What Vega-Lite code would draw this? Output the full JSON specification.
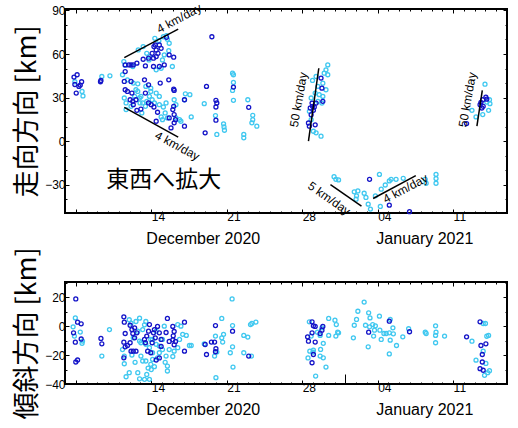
{
"$schema":"https://vega.github.io/schema/vega-lite/v6.json",
"background":"white",
"padding":{"left":12,"top":0,"right":5,"bottom":0},
"config":{"view":{"stroke":"black","strokeWidth":2},"font":"Liberation Sans","axis":{"labelFont":"Liberation Sans","labelColor":"black","tickColor":"black","domain":false,"grid":false,"labelFontSize":12}},
"spacing":69,
"bounds":"flush",
"datasets":{
"strike":[
{"t":"2020-12-07T14:00","v":34.2,"g":"L"},{"t":"2020-12-07T16:00","v":31.1,"g":"L"},{"t":"2020-12-06T22:00","v":40.9,"g":"L"},{"t":"2020-12-09T10:00","v":44.5,"g":"L"},{"t":"2020-12-10T04:00","v":45,"g":"L"},
{"t":"2020-12-11T11:00","v":54.8,"g":"L"},{"t":"2020-12-11T14:00","v":52.3,"g":"L"},{"t":"2020-12-12T07:00","v":51.4,"g":"L"},{"t":"2020-12-12T19:00","v":62.8,"g":"L"},{"t":"2020-12-13T06:00","v":65.1,"g":"L"},{"t":"2020-12-13T14:00","v":60.5,"g":"L"},{"t":"2020-12-13T20:00","v":58.2,"g":"L"},{"t":"2020-12-14T08:00","v":70.8,"g":"L"},{"t":"2020-12-14T17:00","v":69.2,"g":"L"},{"t":"2020-12-15T03:00","v":71.9,"g":"L"},{"t":"2020-12-15T10:00","v":72.6,"g":"L"},{"t":"2020-12-15T12:00","v":70.1,"g":"L"},{"t":"2020-12-15T16:00","v":67.4,"g":"L"},{"t":"2020-12-15T15:00","v":62.3,"g":"L"},{"t":"2020-12-15T05:00","v":59.4,"g":"L"},{"t":"2020-12-15T01:00","v":55.9,"g":"L"},{"t":"2020-12-15T23:00","v":51.4,"g":"L"},{"t":"2020-12-14T11:00","v":49.1,"g":"L"},{"t":"2020-12-14T22:00","v":50.2,"g":"L"},{"t":"2020-12-13T19:00","v":55.9,"g":"L"},
{"t":"2020-12-11T08:00","v":45.7,"g":"L"},{"t":"2020-12-11T12:00","v":29.7,"g":"L"},{"t":"2020-12-11T16:00","v":21.7,"g":"L"},{"t":"2020-12-11T19:00","v":42.2,"g":"L"},{"t":"2020-12-12T08:00","v":40,"g":"L"},{"t":"2020-12-12T18:00","v":39.5,"g":"L"},{"t":"2020-12-12T23:00","v":26.3,"g":"L"},{"t":"2020-12-13T03:00","v":19.4,"g":"L"},{"t":"2020-12-13T11:00","v":24,"g":"L"},{"t":"2020-12-13T20:00","v":30.8,"g":"L"},{"t":"2020-12-13T23:00","v":34.2,"g":"L"},{"t":"2020-12-13T14:00","v":27.4,"g":"L"},{"t":"2020-12-14T02:00","v":28.5,"g":"L"},{"t":"2020-12-14T07:00","v":26.3,"g":"L"},{"t":"2020-12-14T18:00","v":25.1,"g":"L"},{"t":"2020-12-15T03:00","v":23.5,"g":"L"},{"t":"2020-12-15T07:00","v":19.4,"g":"L"},{"t":"2020-12-15T12:00","v":16,"g":"L"},{"t":"2020-12-15T01:00","v":14.8,"g":"L"},{"t":"2020-12-14T22:00","v":16.7,"g":"L"},{"t":"2020-12-16T07:00","v":16,"g":"L"},{"t":"2020-12-16T15:00","v":14.8,"g":"L"},{"t":"2020-12-16T18:00","v":13.7,"g":"L"},{"t":"2020-12-17T04:00","v":32.6,"g":"L"},{"t":"2020-12-17T17:00","v":16.7,"g":"L"},{"t":"2020-12-16T03:00","v":28.5,"g":"L"},{"t":"2020-12-16T07:00","v":25.1,"g":"L"},{"t":"2020-12-15T09:00","v":26.3,"g":"L"},{"t":"2020-12-12T18:00","v":34.2,"g":"L"},{"t":"2020-12-13T01:00","v":30.8,"g":"L"},{"t":"2020-12-12T11:00","v":30.8,"g":"L"},{"t":"2020-12-12T22:00","v":29.7,"g":"L"},{"t":"2020-12-13T12:00","v":37.7,"g":"L"},{"t":"2020-12-13T23:00","v":36.5,"g":"L"},{"t":"2020-12-14T11:00","v":33.1,"g":"L"},{"t":"2020-12-14T18:00","v":30.8,"g":"L"},{"t":"2020-12-12T14:00","v":35.4,"g":"L"},{"t":"2020-12-13T05:00","v":26.3,"g":"L"},{"t":"2020-12-12T03:00","v":24,"g":"L"},{"t":"2020-12-11T16:00","v":26.3,"g":"L"},{"t":"2020-12-17T14:00","v":32,"g":"L"},{"t":"2020-12-17T02:00","v":28.5,"g":"L"},
{"t":"2020-12-18T22:00","v":25.8,"g":"L"},{"t":"2020-12-19T23:00","v":17.6,"g":"L"},{"t":"2020-12-20T02:00","v":4.6,"g":"L"},{"t":"2020-12-20T17:00","v":11.9,"g":"L"},{"t":"2020-12-20T18:00","v":9.8,"g":"L"},{"t":"2020-12-20T19:00","v":7.5,"g":"L"},{"t":"2020-12-21T13:00","v":46.8,"g":"L"},{"t":"2020-12-21T15:00","v":45.7,"g":"L"},{"t":"2020-12-21T15:00","v":40.4,"g":"L"},{"t":"2020-12-21T13:00","v":34.9,"g":"L"},{"t":"2020-12-21T15:00","v":28.1,"g":"L"},{"t":"2020-12-22T14:00","v":4.6,"g":"L"},{"t":"2020-12-22T14:00","v":2.3,"g":"L"},{"t":"2020-12-22T23:00","v":28.5,"g":"L"},{"t":"2020-12-23T10:00","v":17.8,"g":"L"},{"t":"2020-12-23T10:00","v":14.8,"g":"L"},{"t":"2020-12-23T08:00","v":12.6,"g":"L"},{"t":"2020-12-23T19:00","v":10.3,"g":"L"},
{"t":"2020-12-28T23:00","v":41.8,"g":"L"},{"t":"2020-12-29T07:00","v":44.5,"g":"L"},{"t":"2020-12-29T11:00","v":37.7,"g":"L"},{"t":"2020-12-29T05:00","v":33.1,"g":"L"},{"t":"2020-12-29T14:00","v":32,"g":"L"},{"t":"2020-12-29T22:00","v":30.8,"g":"L"},{"t":"2020-12-30T01:00","v":46.8,"g":"L"},{"t":"2020-12-30T05:00","v":49.1,"g":"L"},{"t":"2020-12-30T09:00","v":52.5,"g":"L"},{"t":"2020-12-30T09:00","v":45.7,"g":"L"},{"t":"2020-12-29T22:00","v":39.9,"g":"L"},{"t":"2020-12-30T05:00","v":35.4,"g":"L"},{"t":"2020-12-29T20:00","v":26.2,"g":"L"},{"t":"2020-12-28T20:00","v":29.7,"g":"L"},{"t":"2020-12-28T16:00","v":20.5,"g":"L"},{"t":"2020-12-29T01:00","v":6.8,"g":"L"},{"t":"2020-12-29T07:00","v":5.7,"g":"L"},{"t":"2020-12-29T18:00","v":3.4,"g":"L"},{"t":"2020-12-28T20:00","v":14.8,"g":"L"},{"t":"2020-12-29T11:00","v":27.4,"g":"L"},
{"t":"2020-12-30T23:00","v":-24.5,"g":"L"},{"t":"2020-12-31T03:00","v":-26.3,"g":"L"},{"t":"2020-12-31T09:00","v":-26.7,"g":"L"},{"t":"2021-01-01T20:00","v":-34.9,"g":"L"},{"t":"2021-01-02T04:00","v":-34.3,"g":"L"},{"t":"2021-01-02T01:00","v":-37.7,"g":"L"},{"t":"2021-01-02T18:00","v":-35.9,"g":"L"},{"t":"2021-01-02T22:00","v":-38.8,"g":"L"},{"t":"2021-01-03T03:00","v":-43.4,"g":"L"},{"t":"2021-01-04T04:00","v":-22.9,"g":"L"},{"t":"2021-01-04T08:00","v":-33.1,"g":"L"},{"t":"2021-01-04T06:00","v":-45,"g":"L"},{"t":"2021-01-04T17:00","v":-30.2,"g":"L"},{"t":"2021-01-05T02:00","v":-27.4,"g":"L"},{"t":"2021-01-05T06:00","v":-26.3,"g":"L"},{"t":"2021-01-05T17:00","v":-26.3,"g":"L"},{"t":"2021-01-06T09:00","v":-25.6,"g":"L"},{"t":"2021-01-08T10:00","v":-26.3,"g":"L"},{"t":"2021-01-08T12:00","v":-29,"g":"L"},{"t":"2021-01-09T10:00","v":-22.9,"g":"L"},{"t":"2021-01-09T10:00","v":-25.8,"g":"L"},{"t":"2021-01-09T10:00","v":-29,"g":"L"},{"t":"2021-01-03T19:00","v":-37.7,"g":"L"},{"t":"2021-01-02T00:00","v":-40,"g":"L"},{"t":"2021-01-03T08:00","v":-46.8,"g":"L"},
{"t":"2021-01-13T23:00","v":39.2,"g":"L"},{"t":"2021-01-12T18:00","v":21.2,"g":"L"},{"t":"2021-01-13T03:00","v":16.7,"g":"L"},{"t":"2021-01-13T18:00","v":18.3,"g":"L"},{"t":"2021-01-14T07:00","v":21.2,"g":"L"},{"t":"2021-01-14T09:00","v":28.5,"g":"L"},{"t":"2021-01-14T10:00","v":25.8,"g":"L"},{"t":"2021-01-14T03:00","v":26.9,"g":"L"},
{"t":"2020-12-06T20:00","v":44.1,"g":"D"},{"t":"2020-12-07T03:00","v":45.7,"g":"D"},{"t":"2020-12-06T22:00","v":39,"g":"D"},{"t":"2020-12-07T01:00","v":33.1,"g":"D"},{"t":"2020-12-07T10:00","v":38.6,"g":"D"},{"t":"2020-12-07T13:00","v":40.9,"g":"D"},{"t":"2020-12-07T07:00","v":37.7,"g":"D"},{"t":"2020-12-09T07:00","v":40.9,"g":"D"},{"t":"2020-12-09T08:00","v":41.8,"g":"D"},
{"t":"2020-12-11T14:00","v":52.5,"g":"D"},{"t":"2020-12-11T14:00","v":47.9,"g":"D"},{"t":"2020-12-11T22:00","v":52.5,"g":"D"},{"t":"2020-12-12T03:00","v":52.5,"g":"D"},{"t":"2020-12-12T08:00","v":52.5,"g":"D"},{"t":"2020-12-12T16:00","v":53.7,"g":"D"},{"t":"2020-12-13T06:00","v":56.4,"g":"D"},{"t":"2020-12-13T11:00","v":51.8,"g":"D"},{"t":"2020-12-13T18:00","v":57.1,"g":"D"},{"t":"2020-12-14T02:00","v":60.5,"g":"D"},{"t":"2020-12-14T06:00","v":65.1,"g":"D"},{"t":"2020-12-14T09:00","v":66.2,"g":"D"},{"t":"2020-12-14T11:00","v":62.8,"g":"D"},{"t":"2020-12-14T15:00","v":60.5,"g":"D"},{"t":"2020-12-14T18:00","v":66.2,"g":"D"},{"t":"2020-12-14T22:00","v":63.9,"g":"D"},{"t":"2020-12-14T05:00","v":51.4,"g":"D"},{"t":"2020-12-14T18:00","v":51.4,"g":"D"},{"t":"2020-12-15T05:00","v":52.5,"g":"D"},{"t":"2020-12-15T16:00","v":59.4,"g":"D"},{"t":"2020-12-16T02:00","v":57.8,"g":"D"},{"t":"2020-12-15T10:00","v":71.5,"g":"D"},{"t":"2020-12-14T05:00","v":57.1,"g":"D"},{"t":"2020-12-14T11:00","v":58.2,"g":"D"},
{"t":"2020-12-11T12:00","v":41.1,"g":"D"},{"t":"2020-12-12T03:00","v":41.1,"g":"D"},{"t":"2020-12-11T14:00","v":35.4,"g":"D"},{"t":"2020-12-11T19:00","v":34.2,"g":"D"},{"t":"2020-12-12T01:00","v":28.5,"g":"D"},{"t":"2020-12-12T07:00","v":27.4,"g":"D"},{"t":"2020-12-12T14:00","v":28.5,"g":"D"},{"t":"2020-12-12T05:00","v":33.1,"g":"D"},{"t":"2020-12-12T08:00","v":25.1,"g":"D"},{"t":"2020-12-12T16:00","v":21.2,"g":"D"},{"t":"2020-12-13T01:00","v":22.1,"g":"D"},{"t":"2020-12-13T09:00","v":42.2,"g":"D"},{"t":"2020-12-13T18:00","v":38.8,"g":"D"},{"t":"2020-12-13T11:00","v":33.1,"g":"D"},{"t":"2020-12-13T18:00","v":26.3,"g":"D"},{"t":"2020-12-14T00:00","v":25.1,"g":"D"},{"t":"2020-12-14T06:00","v":23.5,"g":"D"},{"t":"2020-12-14T14:00","v":19.9,"g":"D"},{"t":"2020-12-14T11:00","v":13.7,"g":"D"},{"t":"2020-12-14T20:00","v":40,"g":"D"},{"t":"2020-12-15T15:00","v":42.2,"g":"D"},{"t":"2020-12-16T02:00","v":35.8,"g":"D"},{"t":"2020-12-16T03:00","v":34.9,"g":"D"},{"t":"2020-12-16T02:00","v":24,"g":"D"},{"t":"2020-12-16T00:00","v":21.7,"g":"D"},{"t":"2020-12-16T03:00","v":18.3,"g":"D"},{"t":"2020-12-16T06:00","v":14.8,"g":"D"},{"t":"2020-12-15T20:00","v":9.1,"g":"D"},{"t":"2020-12-17T02:00","v":28.5,"g":"D"},{"t":"2020-12-17T02:00","v":10.3,"g":"D"},{"t":"2020-12-16T03:00","v":12.6,"g":"D"},{"t":"2020-12-15T16:00","v":16,"g":"D"},
{"t":"2020-12-19T15:00","v":71.9,"g":"D"},{"t":"2020-12-19T03:00","v":37.7,"g":"D"},{"t":"2020-12-19T00:00","v":5.7,"g":"D"},{"t":"2020-12-20T00:00","v":28.1,"g":"D"},{"t":"2020-12-20T02:00","v":26.3,"g":"D"},{"t":"2020-12-20T00:00","v":23.5,"g":"D"},{"t":"2020-12-20T00:00","v":14.4,"g":"D"},{"t":"2020-12-21T15:00","v":37.2,"g":"D"},{"t":"2020-12-23T01:00","v":23.3,"g":"D"},
{"t":"2020-12-28T14:00","v":12.5,"g":"D"},{"t":"2020-12-28T16:00","v":10.3,"g":"D"},{"t":"2020-12-29T05:00","v":11.2,"g":"D"},{"t":"2020-12-28T20:00","v":18.2,"g":"D"},{"t":"2020-12-28T23:00","v":24,"g":"D"},{"t":"2020-12-28T22:00","v":26.2,"g":"D"},{"t":"2020-12-29T03:00","v":23.5,"g":"D"},{"t":"2020-12-28T18:00","v":22.8,"g":"D"},{"t":"2020-12-29T01:00","v":21.2,"g":"D"},{"t":"2020-12-29T07:00","v":26.2,"g":"D"},{"t":"2020-12-29T18:00","v":43.4,"g":"D"},{"t":"2020-12-29T20:00","v":36.5,"g":"D"},{"t":"2020-12-29T22:00","v":27.4,"g":"D"},
{"t":"2021-01-03T06:00","v":-26.3,"g":"D"},{"t":"2021-01-05T02:00","v":-44.1,"g":"D"},{"t":"2021-01-06T23:00","v":-48.6,"g":"D"},
{"t":"2021-01-12T06:00","v":12.1,"g":"D"},{"t":"2021-01-13T14:00","v":26.7,"g":"D"},{"t":"2021-01-13T18:00","v":28.5,"g":"D"},{"t":"2021-01-14T01:00","v":30.3,"g":"D"},{"t":"2021-01-13T19:00","v":24,"g":"D"},{"t":"2021-01-13T16:00","v":22.8,"g":"D"},{"t":"2021-01-13T12:00","v":25.1,"g":"D"},{"t":"2021-01-14T03:00","v":28.9,"g":"D"}
],
"dip":[
{"t":"2020-12-06T23:00","v":5.7,"g":"L"},{"t":"2020-12-06T18:00","v":-0.5,"g":"L"},{"t":"2020-12-07T10:00","v":-4.1,"g":"L"},{"t":"2020-12-07T14:00","v":-11.9,"g":"L"},{"t":"2020-12-07T15:00","v":-10.3,"g":"L"},{"t":"2020-12-06T21:00","v":-6.9,"g":"L"},{"t":"2020-12-09T10:00","v":-20.7,"g":"L"},{"t":"2020-12-10T03:00","v":-2.4,"g":"L"},
{"t":"2020-12-11T08:00","v":-16.2,"g":"L"},{"t":"2020-12-11T12:00","v":-20.7,"g":"L"},{"t":"2020-12-11T16:00","v":-35,"g":"L"},{"t":"2020-12-11T23:00","v":-32.2,"g":"L"},{"t":"2020-12-12T18:00","v":-32.2,"g":"L"},{"t":"2020-12-12T22:00","v":-36.4,"g":"L"},{"t":"2020-12-13T09:00","v":-36.8,"g":"L"},{"t":"2020-12-13T14:00","v":-33.4,"g":"L"},{"t":"2020-12-13T20:00","v":-36.8,"g":"L"},{"t":"2020-12-12T08:00","v":-8.1,"g":"L"},{"t":"2020-12-12T22:00","v":-10.3,"g":"L"},{"t":"2020-12-13T01:00","v":-20.7,"g":"L"},{"t":"2020-12-13T05:00","v":-24.1,"g":"L"},{"t":"2020-12-13T12:00","v":-24.1,"g":"L"},{"t":"2020-12-13T23:00","v":-26.4,"g":"L"},{"t":"2020-12-14T03:00","v":-23,"g":"L"},{"t":"2020-12-14T14:00","v":-21.9,"g":"L"},{"t":"2020-12-14T18:00","v":-18.4,"g":"L"},{"t":"2020-12-15T01:00","v":-16.2,"g":"L"},{"t":"2020-12-15T09:00","v":-20.7,"g":"L"},{"t":"2020-12-15T12:00","v":-27.6,"g":"L"},{"t":"2020-12-15T12:00","v":-31,"g":"L"},{"t":"2020-12-15T16:00","v":-16.2,"g":"L"},{"t":"2020-12-16T03:00","v":-17.3,"g":"L"},{"t":"2020-12-16T11:00","v":-14.9,"g":"L"},{"t":"2020-12-16T15:00","v":-9.2,"g":"L"},{"t":"2020-12-16T22:00","v":-5.7,"g":"L"},{"t":"2020-12-17T06:00","v":-6.4,"g":"L"},{"t":"2020-12-17T13:00","v":-13.4,"g":"L"},{"t":"2020-12-16T11:00","v":1.1,"g":"L"},{"t":"2020-12-16T18:00","v":0,"g":"L"},{"t":"2020-12-11T23:00","v":4.4,"g":"L"},{"t":"2020-12-12T03:00","v":2.1,"g":"L"},{"t":"2020-12-12T14:00","v":3.2,"g":"L"},{"t":"2020-12-12T22:00","v":5.5,"g":"L"},{"t":"2020-12-13T09:00","v":0.9,"g":"L"},{"t":"2020-12-13T12:00","v":3.2,"g":"L"},{"t":"2020-12-13T05:00","v":-2.4,"g":"L"},{"t":"2020-12-12T18:00","v":-3.5,"g":"L"},{"t":"2020-12-13T01:00","v":-11.5,"g":"L"},{"t":"2020-12-14T03:00","v":-9.2,"g":"L"},{"t":"2020-12-14T11:00","v":-12.6,"g":"L"},{"t":"2020-12-14T18:00","v":-13.8,"g":"L"},{"t":"2020-12-15T01:00","v":-9.2,"g":"L"},{"t":"2020-12-15T05:00","v":0,"g":"L"},{"t":"2020-12-13T12:00","v":-12.6,"g":"L"},{"t":"2020-12-13T20:00","v":-14.9,"g":"L"},{"t":"2020-12-13T23:00","v":-9.2,"g":"L"},{"t":"2020-12-14T03:00","v":-18.4,"g":"L"},{"t":"2020-12-14T11:00","v":-3.5,"g":"L"},{"t":"2020-12-11T12:00","v":-26,"g":"L"},{"t":"2020-12-12T05:00","v":-20,"g":"L"},{"t":"2020-12-14T00:00","v":-30,"g":"L"},{"t":"2020-12-14T07:00","v":-28,"g":"L"},{"t":"2020-12-15T07:00","v":-25,"g":"L"},{"t":"2020-12-16T00:00","v":-21,"g":"L"},{"t":"2020-12-12T12:00","v":-25,"g":"L"},{"t":"2020-12-13T17:00","v":-29,"g":"L"},
{"t":"2020-12-17T17:00","v":-13.4,"g":"L"},{"t":"2020-12-18T22:00","v":-12.2,"g":"L"},{"t":"2020-12-19T23:00","v":-6.9,"g":"L"},{"t":"2020-12-20T02:00","v":-17.9,"g":"L"},{"t":"2020-12-19T21:00","v":-20.7,"g":"L"},{"t":"2020-12-20T00:00","v":-35.6,"g":"L"},{"t":"2020-12-20T13:00","v":5.3,"g":"L"},{"t":"2020-12-20T13:00","v":-8.1,"g":"L"},{"t":"2020-12-20T17:00","v":-5.7,"g":"L"},{"t":"2020-12-20T15:00","v":-11,"g":"L"},{"t":"2020-12-21T12:00","v":18.8,"g":"L"},{"t":"2020-12-21T13:00","v":0.4,"g":"L"},{"t":"2020-12-21T13:00","v":-14.3,"g":"L"},{"t":"2020-12-21T08:00","v":-18.4,"g":"L"},{"t":"2020-12-21T14:00","v":-28.3,"g":"L"},{"t":"2020-12-22T14:00","v":-18.4,"g":"L"},{"t":"2020-12-22T23:00","v":-7.6,"g":"L"},{"t":"2020-12-22T14:00","v":-6.4,"g":"L"},{"t":"2020-12-23T07:00","v":-20.7,"g":"L"},{"t":"2020-12-23T05:00","v":1.1,"g":"L"},{"t":"2020-12-23T08:00","v":1.8,"g":"L"},{"t":"2020-12-23T17:00","v":2.8,"g":"L"},
{"t":"2020-12-28T16:00","v":3,"g":"L"},{"t":"2020-12-28T20:00","v":-6.9,"g":"L"},{"t":"2020-12-29T01:00","v":-16.6,"g":"L"},{"t":"2020-12-29T06:00","v":-34.5,"g":"L"},{"t":"2020-12-29T10:00","v":-4.2,"g":"L"},{"t":"2020-12-29T16:00","v":-6.4,"g":"L"},{"t":"2020-12-29T17:00","v":-16.1,"g":"L"},{"t":"2020-12-29T23:00","v":-11.9,"g":"L"},{"t":"2020-12-29T23:00","v":-21.9,"g":"L"},{"t":"2020-12-30T05:00","v":-28.3,"g":"L"},{"t":"2020-12-29T20:00","v":-1.2,"g":"L"},{"t":"2020-12-30T11:00","v":5.3,"g":"L"},{"t":"2020-12-30T11:00","v":-6.4,"g":"L"},{"t":"2020-12-31T01:00","v":4.1,"g":"L"},{"t":"2020-12-31T04:00","v":1.1,"g":"L"},{"t":"2020-12-31T07:00","v":-4.2,"g":"L"},{"t":"2020-12-31T03:00","v":-6.9,"g":"L"},{"t":"2020-12-31T09:00","v":-4.6,"g":"L"},{"t":"2020-12-28T17:00","v":-17.3,"g":"L"},{"t":"2020-12-29T00:00","v":-18,"g":"L"},{"t":"2020-12-29T16:00","v":-20.7,"g":"L"},{"t":"2020-12-28T13:00","v":-22,"g":"L"},
{"t":"2021-01-01T18:00","v":-8.1,"g":"L"},{"t":"2021-01-01T20:00","v":0.6,"g":"L"},{"t":"2021-01-02T01:00","v":4.6,"g":"L"},{"t":"2021-01-02T04:00","v":10.3,"g":"L"},{"t":"2021-01-02T18:00","v":16.6,"g":"L"},{"t":"2021-01-02T21:00","v":0.6,"g":"L"},{"t":"2021-01-03T04:00","v":9.2,"g":"L"},{"t":"2021-01-03T07:00","v":5.7,"g":"L"},{"t":"2021-01-03T06:00","v":-0.5,"g":"L"},{"t":"2021-01-03T03:00","v":-14.3,"g":"L"},{"t":"2021-01-03T13:00","v":1.1,"g":"L"},{"t":"2021-01-03T17:00","v":-2.8,"g":"L"},{"t":"2021-01-03T15:00","v":-6.9,"g":"L"},{"t":"2021-01-03T19:00","v":0.2,"g":"L"},{"t":"2021-01-04T04:00","v":6.9,"g":"L"},{"t":"2021-01-04T05:00","v":-2.8,"g":"L"},{"t":"2021-01-04T08:00","v":-9.2,"g":"L"},{"t":"2021-01-04T14:00","v":-5.1,"g":"L"},{"t":"2021-01-04T19:00","v":-5.1,"g":"L"},{"t":"2021-01-05T04:00","v":4.6,"g":"L"},{"t":"2021-01-05T02:00","v":-4.6,"g":"L"},{"t":"2021-01-05T04:00","v":-9.7,"g":"L"},{"t":"2021-01-05T02:00","v":-19.2,"g":"L"},{"t":"2021-01-05T10:00","v":-1.2,"g":"L"},{"t":"2021-01-05T11:00","v":-5.3,"g":"L"},{"t":"2021-01-05T18:00","v":-13.4,"g":"L"},{"t":"2021-01-06T08:00","v":-7.4,"g":"L"},{"t":"2021-01-06T21:00","v":-1.8,"g":"L"},{"t":"2021-01-08T10:00","v":-4.2,"g":"L"},{"t":"2021-01-08T12:00","v":-5.1,"g":"L"},{"t":"2021-01-09T09:00","v":0.2,"g":"L"},{"t":"2021-01-09T10:00","v":-4.2,"g":"L"},{"t":"2021-01-09T09:00","v":-6.4,"g":"L"},{"t":"2021-01-09T09:00","v":-11.5,"g":"L"},{"t":"2021-01-10T05:00","v":-6.9,"g":"L"},
{"t":"2021-01-12T18:00","v":-10.4,"g":"L"},{"t":"2021-01-13T19:00","v":1.8,"g":"L"},{"t":"2021-01-14T00:00","v":1.8,"g":"L"},{"t":"2021-01-13T19:00","v":-17.3,"g":"L"},{"t":"2021-01-13T03:00","v":-23.5,"g":"L"},{"t":"2021-01-14T03:00","v":-7,"g":"L"},{"t":"2021-01-14T07:00","v":-6.4,"g":"L"},{"t":"2021-01-14T01:00","v":-25.8,"g":"L"},{"t":"2021-01-13T22:00","v":-34,"g":"L"},{"t":"2021-01-14T09:00","v":-30.8,"g":"L"},{"t":"2021-01-14T05:00","v":-32.2,"g":"L"},
{"t":"2020-12-07T00:00","v":18.8,"g":"D"},{"t":"2020-12-07T04:00","v":2.7,"g":"D"},{"t":"2020-12-07T12:00","v":1.6,"g":"D"},{"t":"2020-12-06T19:00","v":-4.6,"g":"D"},{"t":"2020-12-06T23:00","v":-11.1,"g":"D"},{"t":"2020-12-07T12:00","v":-8.9,"g":"D"},{"t":"2020-12-07T00:00","v":-24.8,"g":"D"},{"t":"2020-12-07T04:00","v":-23.4,"g":"D"},{"t":"2020-12-09T08:00","v":-8.5,"g":"D"},{"t":"2020-12-09T10:00","v":-12.2,"g":"D"},
{"t":"2020-12-11T11:00","v":6.4,"g":"D"},{"t":"2020-12-11T12:00","v":2.7,"g":"D"},{"t":"2020-12-11T14:00","v":-5.1,"g":"D"},{"t":"2020-12-11T11:00","v":-11.1,"g":"D"},{"t":"2020-12-11T14:00","v":-14.3,"g":"D"},{"t":"2020-12-11T11:00","v":-21.9,"g":"D"},{"t":"2020-12-12T01:00","v":0.6,"g":"D"},{"t":"2020-12-12T05:00","v":-2.4,"g":"D"},{"t":"2020-12-12T07:00","v":-5.1,"g":"D"},{"t":"2020-12-12T11:00","v":-1.2,"g":"D"},{"t":"2020-12-11T19:00","v":-13.4,"g":"D"},{"t":"2020-12-12T01:00","v":-11.5,"g":"D"},{"t":"2020-12-12T03:00","v":-17.3,"g":"D"},{"t":"2020-12-12T08:00","v":-17.3,"g":"D"},{"t":"2020-12-12T14:00","v":-17.3,"g":"D"},{"t":"2020-12-12T11:00","v":-8.1,"g":"D"},{"t":"2020-12-12T16:00","v":-4.6,"g":"D"},{"t":"2020-12-13T09:00","v":-9.2,"g":"D"},{"t":"2020-12-13T11:00","v":-11.5,"g":"D"},{"t":"2020-12-13T14:00","v":-6.9,"g":"D"},{"t":"2020-12-13T16:00","v":-17.3,"g":"D"},{"t":"2020-12-13T18:00","v":-3.5,"g":"D"},{"t":"2020-12-13T20:00","v":1.1,"g":"D"},{"t":"2020-12-13T23:00","v":-18.4,"g":"D"},{"t":"2020-12-14T02:00","v":-11.5,"g":"D"},{"t":"2020-12-14T05:00","v":-4.6,"g":"D"},{"t":"2020-12-14T07:00","v":-2.4,"g":"D"},{"t":"2020-12-14T09:00","v":-8.1,"g":"D"},{"t":"2020-12-14T11:00","v":-23.4,"g":"D"},{"t":"2020-12-14T14:00","v":-0.2,"g":"D"},{"t":"2020-12-14T18:00","v":-4.6,"g":"D"},{"t":"2020-12-14T22:00","v":-9.2,"g":"D"},{"t":"2020-12-14T18:00","v":-22,"g":"D"},{"t":"2020-12-15T09:00","v":-4.4,"g":"D"},{"t":"2020-12-15T12:00","v":5.3,"g":"D"},{"t":"2020-12-16T00:00","v":-0.2,"g":"D"},{"t":"2020-12-16T03:00","v":-3.7,"g":"D"},{"t":"2020-12-16T01:00","v":-6.7,"g":"D"},{"t":"2020-12-16T00:00","v":-9.5,"g":"D"},{"t":"2020-12-16T06:00","v":-10.6,"g":"D"},{"t":"2020-12-15T16:00","v":-10.6,"g":"D"},{"t":"2020-12-16T03:00","v":-12.9,"g":"D"},{"t":"2020-12-17T02:00","v":2.7,"g":"D"},{"t":"2020-12-17T02:00","v":-17.3,"g":"D"},{"t":"2020-12-14T22:00","v":-14,"g":"D"},
{"t":"2020-12-19T00:00","v":-12.7,"g":"D"},{"t":"2020-12-19T03:00","v":-19.6,"g":"D"},{"t":"2020-12-19T23:00","v":0.4,"g":"D"},{"t":"2020-12-19T14:00","v":-11,"g":"D"},{"t":"2020-12-19T21:00","v":-11,"g":"D"},{"t":"2020-12-20T00:00","v":-15.6,"g":"D"},{"t":"2020-12-19T23:00","v":-17.7,"g":"D"},{"t":"2020-12-21T13:00","v":-3.5,"g":"D"},{"t":"2020-12-23T01:00","v":-20.7,"g":"D"},
{"t":"2020-12-28T12:00","v":-7.4,"g":"D"},{"t":"2020-12-28T14:00","v":-10.4,"g":"D"},{"t":"2020-12-28T22:00","v":3,"g":"D"},{"t":"2020-12-29T01:00","v":0.2,"g":"D"},{"t":"2020-12-29T05:00","v":-0.2,"g":"D"},{"t":"2020-12-28T22:00","v":-4.6,"g":"D"},{"t":"2020-12-29T05:00","v":-11,"g":"D"},{"t":"2020-12-29T01:00","v":-19.6,"g":"D"},{"t":"2020-12-28T22:00","v":-25.3,"g":"D"},{"t":"2020-12-29T22:00","v":-0.2,"g":"D"},{"t":"2020-12-29T20:00","v":-2.8,"g":"D"},{"t":"2020-12-29T16:00","v":-5.1,"g":"D"},
{"t":"2021-01-03T04:00","v":-4.2,"g":"D"},{"t":"2021-01-05T02:00","v":3.4,"g":"D"},{"t":"2021-01-06T23:00","v":-3.9,"g":"D"},
{"t":"2021-01-12T06:00","v":-7.4,"g":"D"},{"t":"2021-01-13T12:00","v":3,"g":"D"},{"t":"2021-01-13T14:00","v":-13.4,"g":"D"},{"t":"2021-01-13T17:00","v":-19.6,"g":"D"},{"t":"2021-01-14T01:00","v":-12.2,"g":"D"},{"t":"2021-01-13T17:00","v":-24.8,"g":"D"},{"t":"2021-01-13T12:00","v":-29.4,"g":"D"},{"t":"2021-01-13T19:00","v":-30.5,"g":"D"}
],
"lines":[
{"t1":"2020-12-11T12:00","v1":57.5,"t2":"2020-12-16T12:00","v2":77.1},
{"t1":"2020-12-11T12:00","v1":23.3,"t2":"2020-12-16T12:00","v2":2.7},
{"t1":"2020-12-28T14:00","v1":0,"t2":"2020-12-29T13:00","v2":50.2},
{"t1":"2020-12-30T15:00","v1":-29.9,"t2":"2021-01-02T12:00","v2":-44.8},
{"t1":"2021-01-03T14:00","v1":-39.5,"t2":"2021-01-07T13:00","v2":-23.8},
{"t1":"2021-01-13T05:00","v1":10.3,"t2":"2021-01-13T17:00","v2":34.9}
]
},
"vconcat":[
{
"width":442,"height":204,
"resolve":{"axis":{"x":"independent","y":"independent"}},
"layer":[
{"data":{"name":"strike"},
"mark":{"type":"point","shape":"circle","filled":false,"size":16,"strokeWidth":1.3,"opacity":1},
"encoding":{
"x":{"field":"t","type":"temporal","scale":{"domain":[{"year":2020,"month":12,"date":6},{"year":2021,"month":1,"date":16}]},
"axis":{"orient":"bottom","title":null,
"values":[{"year":2020,"month":12,"date":6},{"year":2020,"month":12,"date":7},{"year":2020,"month":12,"date":8},{"year":2020,"month":12,"date":9},{"year":2020,"month":12,"date":10},{"year":2020,"month":12,"date":11},{"year":2020,"month":12,"date":12},{"year":2020,"month":12,"date":13},{"year":2020,"month":12,"date":13,"hours":12},{"year":2020,"month":12,"date":14},{"year":2020,"month":12,"date":15},{"year":2020,"month":12,"date":16},{"year":2020,"month":12,"date":17},{"year":2020,"month":12,"date":18},{"year":2020,"month":12,"date":19},{"year":2020,"month":12,"date":20},{"year":2020,"month":12,"date":21},{"year":2020,"month":12,"date":22},{"year":2020,"month":12,"date":23},{"year":2020,"month":12,"date":24},{"year":2020,"month":12,"date":25},{"year":2020,"month":12,"date":26},{"year":2020,"month":12,"date":27},{"year":2020,"month":12,"date":28},{"year":2020,"month":12,"date":29},{"year":2020,"month":12,"date":30},{"year":2020,"month":12,"date":31},{"year":2021,"month":1,"date":1},{"year":2021,"month":1,"date":2},{"year":2021,"month":1,"date":3},{"year":2021,"month":1,"date":3,"hours":20},{"year":2021,"month":1,"date":4},{"year":2021,"month":1,"date":5},{"year":2021,"month":1,"date":6},{"year":2021,"month":1,"date":7},{"year":2021,"month":1,"date":8},{"year":2021,"month":1,"date":9},{"year":2021,"month":1,"date":10},{"year":2021,"month":1,"date":11},{"year":2021,"month":1,"date":12},{"year":2021,"month":1,"date":13},{"year":2021,"month":1,"date":14},{"year":2021,"month":1,"date":15}],
"labelExpr":"hours(datum.value) != 0 ? timeFormat(datum.value, '%B %Y') : ((day(datum.value) == 1 && !(month(datum.value) == 11 && date(datum.value) == 7)) ? timeFormat(datum.value, '%d') : '')",
"labelAlign":"left","labelOverlap":false,"labelFlush":false,"labelBound":false,
"labelFontSize":{"condition":{"test":"hours(datum.value) != 0","value":16},"value":12},
"labelPadding":{"condition":{"test":"hours(datum.value) != 0","value":19},"value":2},
"tickSize":{"condition":{"test":"day(datum.value) == 1","value":-4},"value":-2},
"tickOpacity":{"condition":{"test":"hours(datum.value) != 0","value":0},"value":1}}},
"y":{"field":"v","type":"quantitative","scale":{"domain":[-49.5,91],"nice":false,"zero":false},
"axis":{"orient":"left","values":[-40,-30,-20,-10,0,10,20,30,40,50,60,70,80,90],
"labelExpr":"datum.value % 30 == 0 ? format(datum.value, 'd') : ''",
"tickSize":{"condition":{"test":"datum.value % 30 == 0","value":-4},"value":-2},
"labelPadding":4,"title":"走向方向 [km]","titleFont":"Noto Sans CJK JP","titleFontSize":27,"titleFontWeight":"normal","titleColor":"black","titlePadding":3}},
"color":{"field":"g","type":"nominal","scale":{"domain":["D","L"],"range":["#1414c8","#40c8f0"]},"legend":null}}},
{"data":{"name":"strike"},
"mark":{"type":"point","opacity":0},
"encoding":{
"x":{"field":"t","type":"temporal","axis":{"orient":"top","labels":false,"title":null,
"values":[{"year":2020,"month":12,"date":6},{"year":2020,"month":12,"date":7},{"year":2020,"month":12,"date":8},{"year":2020,"month":12,"date":9},{"year":2020,"month":12,"date":10},{"year":2020,"month":12,"date":11},{"year":2020,"month":12,"date":12},{"year":2020,"month":12,"date":13},{"year":2020,"month":12,"date":14},{"year":2020,"month":12,"date":15},{"year":2020,"month":12,"date":16},{"year":2020,"month":12,"date":17},{"year":2020,"month":12,"date":18},{"year":2020,"month":12,"date":19},{"year":2020,"month":12,"date":20},{"year":2020,"month":12,"date":21},{"year":2020,"month":12,"date":22},{"year":2020,"month":12,"date":23},{"year":2020,"month":12,"date":24},{"year":2020,"month":12,"date":25},{"year":2020,"month":12,"date":26},{"year":2020,"month":12,"date":27},{"year":2020,"month":12,"date":28},{"year":2020,"month":12,"date":29},{"year":2020,"month":12,"date":30},{"year":2020,"month":12,"date":31},{"year":2021,"month":1,"date":1},{"year":2021,"month":1,"date":2},{"year":2021,"month":1,"date":3},{"year":2021,"month":1,"date":4},{"year":2021,"month":1,"date":5},{"year":2021,"month":1,"date":6},{"year":2021,"month":1,"date":7},{"year":2021,"month":1,"date":8},{"year":2021,"month":1,"date":9},{"year":2021,"month":1,"date":10},{"year":2021,"month":1,"date":11},{"year":2021,"month":1,"date":12},{"year":2021,"month":1,"date":13},{"year":2021,"month":1,"date":14},{"year":2021,"month":1,"date":15}],
"tickSize":{"condition":{"test":"day(datum.value) == 1","value":-4},"value":-2}}},
"y":{"field":"v","type":"quantitative","axis":{"orient":"right","labels":false,"title":null,"values":[-40,-30,-20,-10,0,10,20,30,40,50,60,70,80,90],
"tickSize":{"condition":{"test":"datum.value % 30 == 0","value":-4},"value":-2}}}}},
{"data":{"name":"lines"},
"mark":{"type":"rule","color":"black","strokeWidth":1.5},
"encoding":{"x":{"field":"t1","type":"temporal","axis":null},"x2":{"field":"t2"},"y":{"field":"v1","type":"quantitative","axis":null},"y2":{"field":"v2"}}},
{"data":{"values":[{"t":"2020-12-16T14:00","v":84.5,"label":"4 km/day"},{"t":"2021-01-06T14:00","v":-32.7,"label":"4 km/day"}]},
"mark":{"type":"text","angle":-28,"fontSize":12,"font":"Liberation Sans","color":"black","align":"center","baseline":"middle"},
"encoding":{"x":{"field":"t","type":"temporal","axis":null},"y":{"field":"v","type":"quantitative","axis":null},"text":{"field":"label"}}},
{"data":{"values":[{"t":"2020-12-16T10:00","v":-3.2,"label":"4 km/day"}]},
"mark":{"type":"text","angle":28,"fontSize":12,"font":"Liberation Sans","color":"black","align":"center","baseline":"middle"},
"encoding":{"x":{"field":"t","type":"temporal","axis":null},"y":{"field":"v","type":"quantitative","axis":null},"text":{"field":"label"}}},
{"data":{"values":[{"t":"2020-12-27T16:00","v":28.5,"label":"50 km/day"},{"t":"2021-01-12T08:00","v":28.5,"label":"50 km/day"}]},
"mark":{"type":"text","angle":-80,"fontSize":12,"font":"Liberation Sans","color":"black","align":"center","baseline":"middle"},
"encoding":{"x":{"field":"t","type":"temporal","axis":null},"y":{"field":"v","type":"quantitative","axis":null},"text":{"field":"label"}}},
{"data":{"values":[{"t":"2020-12-30T12:00","v":-39.5,"label":"5 km/day"}]},
"mark":{"type":"text","angle":35,"fontSize":12,"font":"Liberation Sans","color":"black","align":"center","baseline":"middle"},
"encoding":{"x":{"field":"t","type":"temporal","axis":null},"y":{"field":"v","type":"quantitative","axis":null},"text":{"field":"label"}}},
{"data":{"values":[{"t":"2020-12-15T04:00","v":-26.5,"label":"東西へ拡大"}]},
"mark":{"type":"text","fontSize":23,"font":"Noto Sans CJK JP","color":"black","align":"center","baseline":"middle"},
"encoding":{"x":{"field":"t","type":"temporal","axis":null},"y":{"field":"v","type":"quantitative","axis":null},"text":{"field":"label"}}}
]
},
{
"width":442,"height":102,
"resolve":{"axis":{"x":"independent","y":"independent"}},
"layer":[
{"data":{"name":"dip"},
"mark":{"type":"point","shape":"circle","filled":false,"size":16,"strokeWidth":1.3,"opacity":1},
"encoding":{
"x":{"field":"t","type":"temporal","scale":{"domain":[{"year":2020,"month":12,"date":6},{"year":2021,"month":1,"date":16}]},
"axis":{"orient":"bottom","title":null,
"values":[{"year":2020,"month":12,"date":6},{"year":2020,"month":12,"date":7},{"year":2020,"month":12,"date":8},{"year":2020,"month":12,"date":9},{"year":2020,"month":12,"date":10},{"year":2020,"month":12,"date":11},{"year":2020,"month":12,"date":12},{"year":2020,"month":12,"date":13},{"year":2020,"month":12,"date":13,"hours":12},{"year":2020,"month":12,"date":14},{"year":2020,"month":12,"date":15},{"year":2020,"month":12,"date":16},{"year":2020,"month":12,"date":17},{"year":2020,"month":12,"date":18},{"year":2020,"month":12,"date":19},{"year":2020,"month":12,"date":20},{"year":2020,"month":12,"date":21},{"year":2020,"month":12,"date":22},{"year":2020,"month":12,"date":23},{"year":2020,"month":12,"date":24},{"year":2020,"month":12,"date":25},{"year":2020,"month":12,"date":26},{"year":2020,"month":12,"date":27},{"year":2020,"month":12,"date":28},{"year":2020,"month":12,"date":29},{"year":2020,"month":12,"date":30},{"year":2020,"month":12,"date":31},{"year":2021,"month":1,"date":1},{"year":2021,"month":1,"date":2},{"year":2021,"month":1,"date":3},{"year":2021,"month":1,"date":3,"hours":20},{"year":2021,"month":1,"date":4},{"year":2021,"month":1,"date":5},{"year":2021,"month":1,"date":6},{"year":2021,"month":1,"date":7},{"year":2021,"month":1,"date":8},{"year":2021,"month":1,"date":9},{"year":2021,"month":1,"date":10},{"year":2021,"month":1,"date":11},{"year":2021,"month":1,"date":12},{"year":2021,"month":1,"date":13},{"year":2021,"month":1,"date":14},{"year":2021,"month":1,"date":15}],
"labelExpr":"hours(datum.value) != 0 ? timeFormat(datum.value, '%B %Y') : ((day(datum.value) == 1 && !(month(datum.value) == 11 && date(datum.value) == 7)) ? timeFormat(datum.value, '%d') : '')",
"labelAlign":"left","labelOverlap":false,"labelFlush":false,"labelBound":false,
"labelFontSize":{"condition":{"test":"hours(datum.value) != 0","value":16},"value":12},
"labelPadding":{"condition":{"test":"hours(datum.value) != 0","value":19},"value":2},
"tickSize":{"condition":[{"test":"month(datum.value) == 0 && date(datum.value) == 1 && hours(datum.value) == 0","value":-10},{"test":"day(datum.value) == 1","value":-4}],"value":-2},
"tickOpacity":{"condition":{"test":"hours(datum.value) != 0","value":0},"value":1}}},
"y":{"field":"v","type":"quantitative","scale":{"domain":[-40,30.5],"nice":false,"zero":false},
"axis":{"orient":"left","values":[-40,-30,-20,-10,0,10,20,30],
"labelExpr":"datum.value % 20 == 0 ? format(datum.value, 'd') : ''",
"tickSize":{"condition":{"test":"datum.value % 20 == 0","value":-4},"value":-2},
"labelPadding":4,"title":"傾斜方向 [km]","titleFont":"Noto Sans CJK JP","titleFontSize":27,"titleFontWeight":"normal","titleColor":"black","titlePadding":3}},
"color":{"field":"g","type":"nominal","scale":{"domain":["D","L"],"range":["#1414c8","#40c8f0"]},"legend":null}}},
{"data":{"name":"dip"},
"mark":{"type":"point","opacity":0},
"encoding":{
"x":{"field":"t","type":"temporal","axis":{"orient":"top","labels":false,"title":null,
"values":[{"year":2020,"month":12,"date":6},{"year":2020,"month":12,"date":7},{"year":2020,"month":12,"date":8},{"year":2020,"month":12,"date":9},{"year":2020,"month":12,"date":10},{"year":2020,"month":12,"date":11},{"year":2020,"month":12,"date":12},{"year":2020,"month":12,"date":13},{"year":2020,"month":12,"date":14},{"year":2020,"month":12,"date":15},{"year":2020,"month":12,"date":16},{"year":2020,"month":12,"date":17},{"year":2020,"month":12,"date":18},{"year":2020,"month":12,"date":19},{"year":2020,"month":12,"date":20},{"year":2020,"month":12,"date":21},{"year":2020,"month":12,"date":22},{"year":2020,"month":12,"date":23},{"year":2020,"month":12,"date":24},{"year":2020,"month":12,"date":25},{"year":2020,"month":12,"date":26},{"year":2020,"month":12,"date":27},{"year":2020,"month":12,"date":28},{"year":2020,"month":12,"date":29},{"year":2020,"month":12,"date":30},{"year":2020,"month":12,"date":31},{"year":2021,"month":1,"date":1},{"year":2021,"month":1,"date":2},{"year":2021,"month":1,"date":3},{"year":2021,"month":1,"date":4},{"year":2021,"month":1,"date":5},{"year":2021,"month":1,"date":6},{"year":2021,"month":1,"date":7},{"year":2021,"month":1,"date":8},{"year":2021,"month":1,"date":9},{"year":2021,"month":1,"date":10},{"year":2021,"month":1,"date":11},{"year":2021,"month":1,"date":12},{"year":2021,"month":1,"date":13},{"year":2021,"month":1,"date":14},{"year":2021,"month":1,"date":15}],
"tickSize":{"condition":{"test":"day(datum.value) == 1","value":-4},"value":-2}}},
"y":{"field":"v","type":"quantitative","axis":{"orient":"right","labels":false,"title":null,"values":[-40,-30,-20,-10,0,10,20,30],
"tickSize":{"condition":{"test":"datum.value % 20 == 0","value":-4},"value":-2}}}}}
]
}
]
}
